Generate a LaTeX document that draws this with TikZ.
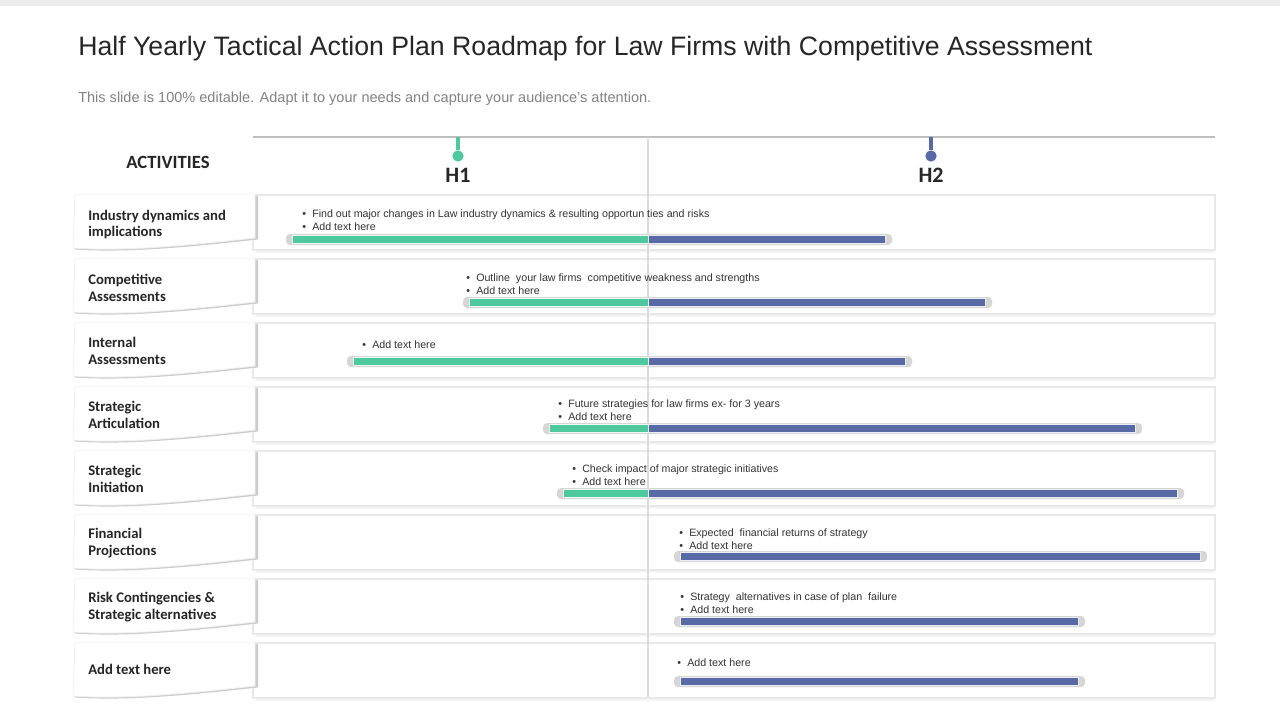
\documentclass[tikz,border=0pt]{standalone}
\usepackage{fontspec}
\setmainfont{Liberation Sans}
\newfontfamily\lblfont{Carlito}
\usetikzlibrary{positioning}
\definecolor{hgreen}{RGB}{78,201,158}
\definecolor{hblue}{RGB}{88,106,166}
\definecolor{rowline}{RGB}{232,232,232}
\definecolor{topline}{RGB}{190,190,190}
\definecolor{midline}{RGB}{218,218,218}
\definecolor{subgray}{RGB}{130,130,130}
\definecolor{inkgray}{RGB}{38,38,38}
\newcommand{\bulmark}{\makebox[7.5pt][l]{\textbullet}}
\begin{document}
\begin{tikzpicture}[x=0.75pt,y=0.75pt,yscale=-1,xscale=1,
  titletext/.style={anchor=west,inner sep=0pt,text=inkgray,font=\fontsize{20}{23}\selectfont},
  subtext/.style={anchor=west,inner sep=0pt,text=subgray,font=\fontsize{10.9}{12}\selectfont},
  headtext/.style={inner sep=0pt,text=inkgray,font=\lblfont\bfseries\fontsize{14}{16}\selectfont},
  halftext/.style={inner sep=0pt,text=inkgray,font=\lblfont\bfseries\fontsize{16.5}{18}\selectfont},
  actlabel/.style={anchor=base west,inner sep=0pt,align=left,text=inkgray,font=\lblfont\bfseries\fontsize{11}{12.75}\selectfont},
  bultext/.style={anchor=base west,inner sep=0pt,align=left,text=black!80,font=\fontsize{8}{9.75}\selectfont},
  rowbox/.style={draw=rowline,fill=white,line width=0.9},
  card/.style={fill=white,draw=black!6,line width=0.6},
  cardshadow/.style={fill=black!20},
  hdot/.style={circle,inner sep=0pt,minimum size=8.5},
  barshadow/.style={fill=black!16,rounded corners=3},
  greenbar/.style={fill=hgreen,draw=white!88!hgreen,line width=0.7},
  bluebar/.style={fill=hblue,draw=white!88!hblue,line width=0.7}]
\useasboundingbox (0,0) rectangle (1280,720);
%Shape: top strip
\fill[black!7] (0,0) rectangle (1280,6);

% Text Node
\node[titletext] (title) at (78,49) {Half Yearly Tactical Action Plan Roadmap for Law Firms with Competitive Assessment};
% Text Node
\node[subtext] (sub) at (78,98.5) {This slide is 100\% editable. Adapt it to your needs and capture your audience's attention.};

%Straight Lines: time axis
\draw[topline,line width=0.9] (253,137) -- (1215,137);

%Shape: row frames and activity cards
\foreach \t in {194,258,322,386,450,514,578,642}{
  \draw[black!4,line width=1.2] (256,\t+58) -- (1215,\t+58);
  \draw[rowbox] (253,\t+1) rectangle (1215,\t+56);
  \fill[cardshadow] (77,\t+2) -- (258,\t+2) -- (258,\t+45.5) .. controls (202,\t+51.5) and (132,\t+59.5) .. (74.5,\t+55.5) -- cycle;
  \draw[card] (75,\t) -- (255,\t) -- (255,\t+44) .. controls (200,\t+50) and (130,\t+58) .. (73,\t+54) -- cycle;
}

%Straight Lines: half divider
\draw[midline,line width=0.8] (648,137) -- (648,697);

%Shape: H1 and H2 markers
\coordinate (h1top) at (458,137);
\coordinate (h2top) at (931,137);
\node[hdot,fill=hgreen] (h1dot) at (458,156) {};
\node[hdot,fill=hblue] (h2dot) at (931,156) {};
\draw[hgreen,line width=2.4] (h1top) -- (h1dot);
\draw[hblue,line width=2.4] (h2top) -- (h2dot);

% Text Node
\node[headtext] (act) at (168,162) {ACTIVITIES};
% Text Node
\node[halftext] (h1) at (458,175) {H1};
% Text Node
\node[halftext] (h2) at (931,175) {H2};

% Text Node: activities (base = last line)
\node[actlabel] (a1) at (88,237) {Industry dynamics and\\implications};
\node[actlabel] (a2) at (88,301) {Competitive\\Assessments};
\node[actlabel] (a3) at (88,364) {Internal\\Assessments};
\node[actlabel] (a4) at (88,428) {Strategic\\Articulation};
\node[actlabel] (a5) at (88,492) {Strategic\\Initiation};
\node[actlabel] (a6) at (88,555) {Financial\\Projections};
\node[actlabel] (a7) at (88,619) {Risk Contingencies \&\\Strategic alternatives};
\node[actlabel] (a8) at (88,674) {Add text here};

% Text Node: bullet notes (base = last line)
\node[bultext] (n1) at (302,231) {\bulmark Find out major changes in Law industry dynamics \& resulting opportun ties and risks\\\bulmark Add text here};
\node[bultext] (n2) at (466,294) {\bulmark Outline\ \ your law firms\ \ competitive weakness and strengths\\\bulmark Add text here};
\node[bultext] (n3) at (362,348) {\bulmark Add text here};
\node[bultext] (n4) at (558,420) {\bulmark Future strategies for law firms ex- for 3 years\\\bulmark Add text here};
\node[bultext] (n5) at (572,485) {\bulmark Check impact of major strategic initiatives\\\bulmark Add text here};
\node[bultext] (n6) at (679,549) {\bulmark Expected\ \ financial returns of strategy\\\bulmark Add text here};
\node[bultext] (n7) at (680,613) {\bulmark Strategy\ \ alternatives in case of plan\ \ failure\\\bulmark Add text here};
\node[bultext] (n8) at (677,666) {\bulmark Add text here};

%Shape: bars
\fill[barshadow] (286,234) rectangle (892,245);
\draw[greenbar] (292,235) rectangle (648,243);
\draw[bluebar] (648,235) rectangle (885,243);

\fill[barshadow] (463,297) rectangle (992,308);
\draw[greenbar] (469,298) rectangle (648,306);
\draw[bluebar] (648,298) rectangle (985,306);

\fill[barshadow] (347,356) rectangle (912,367);
\draw[greenbar] (353,357) rectangle (648,365);
\draw[bluebar] (648,357) rectangle (905,365);

\fill[barshadow] (543,423) rectangle (1142,434);
\draw[greenbar] (549,424) rectangle (648,432);
\draw[bluebar] (648,424) rectangle (1135,432);

\fill[barshadow] (557,488) rectangle (1184,499);
\draw[greenbar] (563,489) rectangle (648,497);
\draw[bluebar] (648,489) rectangle (1177,497);

\fill[barshadow] (674,551) rectangle (1207,562);
\draw[bluebar] (680,552) rectangle (1200,560);

\fill[barshadow] (674,616) rectangle (1085,627);
\draw[bluebar] (680,617) rectangle (1078,625);

\fill[barshadow] (674,676) rectangle (1085,687);
\draw[bluebar] (680,677) rectangle (1078,685);
\end{tikzpicture}
\end{document}
